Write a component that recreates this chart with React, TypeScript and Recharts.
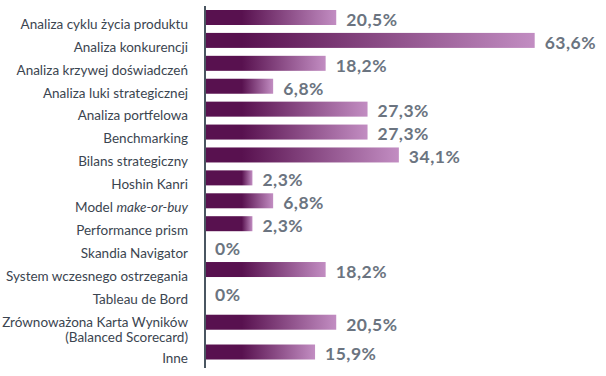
import React from 'react';
import { BarChart, Bar, XAxis, YAxis, LabelList } from 'recharts';

const categories: string[] = [
  'Analiza cyklu życia produktu',
  'Analiza konkurencji',
  'Analiza krzywej doświadczeń',
  'Analiza luki strategicznej',
  'Analiza portfelowa',
  'Benchmarking',
  'Bilans strategiczny',
  'Hoshin Kanri',
  'Model make-or-buy',
  'Performance prism',
  'Skandia Navigator',
  'System wczesnego ostrzegania',
  'Tableau de Bord',
  'Zrównoważona Karta Wyników\n(Balanced Scorecard)',
  'Inne',
];

const values: number[] = [20.5, 63.6, 18.2, 6.8, 27.3, 27.3, 34.1, 2.3, 6.8, 2.3, 0, 18.2, 0, 20.5, 15.9];

const italicParts: string[] = ['make-or-buy'];

const STUB = 8;
const DARK = '#58114f';
const LIGHT = '#c28dc2';
const CAT_COLOR = '#3b4550';
const VAL_COLOR = '#6b7480';
const AXIS_COLOR = '#4a5661';
const FONT = 'Lato, "Noto Sans", sans-serif';

const lineCounts = categories.map((c) => c.split('\n').length);
const positions: number[] = [];
categories.forEach((_, i) => {
  if (i === 0) positions.push(0);
  else positions.push(positions[i - 1] + 1 + 0.3 * ((lineCounts[i - 1] - 1) + (lineCounts[i] - 1)));
});

const data = categories.map((name, i) => ({
  name,
  pos: positions[i],
  value: values[i],
  range: [-STUB, values[i] > 0 ? values[i] : -STUB],
}));

const fmt = (v: number) => `${String(v).replace('.', ',')}%`;

const renderItalic = (line: string) => {
  for (const part of italicParts) {
    const k = line.indexOf(part);
    if (k >= 0) {
      return [
        <tspan key="a">{line.slice(0, k)}</tspan>,
        <tspan key="b" fontStyle="italic">{part}</tspan>,
        <tspan key="c">{line.slice(k + part.length)}</tspan>,
      ];
    }
  }
  return line;
};

const CatTick = (props: any) => {
  const { x, y, payload } = props;
  const idx = positions.findIndex((p) => Math.abs(p - payload.value) < 1e-6);
  if (idx < 0) return null;
  const lines = categories[idx].split('\n');
  const lh = 15;
  const startY = y + 6.5 - (lines.length - 1) * 6.5;
  return (
    <text textAnchor="end" fill={CAT_COLOR} fontSize={13.5} fontFamily={FONT}>
      {lines.map((ln, i) => (
        <tspan key={i} x={x} y={startY + i * lh} dy="0.36em">
          {renderItalic(ln)}
        </tspan>
      ))}
    </text>
  );
};

const GradBar = (props: any) => {
  const { x, y, width, height, payload } = props;
  if (!width || width <= 0) return null;
  const v = payload.value;
  const stubFrac = STUB / (v + STUB);
  const id = `grad-${categories.indexOf(payload.name)}`;
  return (
    <g>
      <defs>
        <linearGradient id={id} x1="0" y1="0" x2="1" y2="0">
          <stop offset={0} stopColor={DARK} />
          <stop offset={stubFrac} stopColor={DARK} />
          <stop offset={1} stopColor={LIGHT} />
        </linearGradient>
      </defs>
      <rect x={x} y={y} width={width} height={height} fill={`url(#${id})`} />
    </g>
  );
};

const ValueLabel = (props: any) => {
  const { x, y, width, height, value } = props;
  return (
    <text
      x={x + width + 10}
      y={y + height / 2 + 2}
      dy="0.36em"
      fill={VAL_COLOR}
      fontFamily={FONT}
      fontWeight={700}
      fontSize={17.5}
      letterSpacing={0.5}
    >
      {fmt(Number(value))}
    </text>
  );
};

export default function App() {
  return (
    <div style={{ position: 'absolute', left: 0, top: 0, background: '#fff' }}>
      <BarChart
        width={606}
        height={376}
        data={data}
        layout="vertical"
        margin={{ top: 6, right: 5, bottom: 8, left: 0 }}
      >
        <XAxis type="number" domain={[-STUB, 78]} hide allowDataOverflow />
        <YAxis
          type="number"
          dataKey="pos"
          domain={[-0.5, 15.3]}
          ticks={positions}
          interval={0}
          width={205}
          axisLine={{ stroke: AXIS_COLOR, strokeWidth: 2 }}
          tickLine={false}
          tickSize={0}
          tickMargin={17}
          tick={<CatTick />}
          allowDataOverflow
        />
        <Bar dataKey="range" barSize={15} shape={GradBar} isAnimationActive={false}>
          <LabelList dataKey="value" content={ValueLabel} />
        </Bar>
      </BarChart>
    </div>
  );
}
